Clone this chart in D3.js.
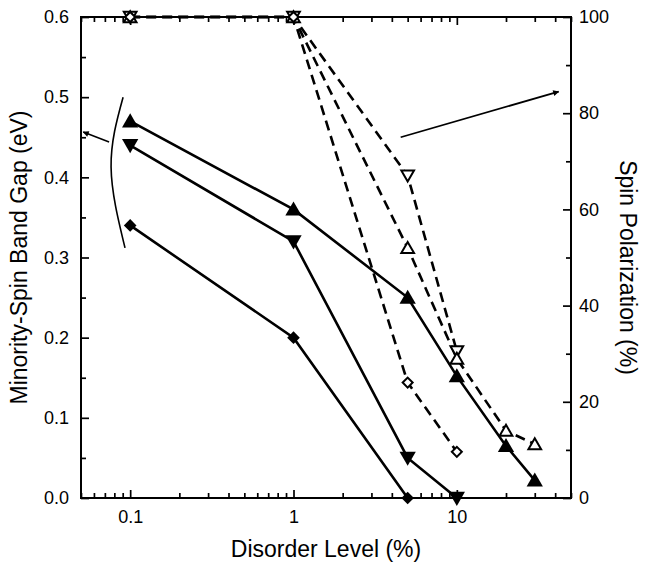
<!DOCTYPE html>
<html>
<head>
<meta charset="utf-8">
<script src="https://cdn.jsdelivr.net/npm/d3@7"></script>
<style>
  body { margin: 0; background: #fff; }
  svg text { font-family: Arial, "Liberation Sans", Helvetica, sans-serif; fill: #000; }
</style>
</head>
<body>
<div id="chart"></div>
<script>
// disorder levels (%) per series
var xUpTri = [0.1, 1, 5, 10, 20, 30];
var gapUpTri = [0.47, 0.36, 0.25, 0.152, 0.065, 0.022];
var xDownTri = [0.1, 1, 5, 10];
var gapDownTri = [0.44, 0.32, 0.05, 0.0];
var xDiamond = [0.1, 1, 5];
var gapDiamond = [0.34, 0.20, 0.0];

// spin polarization (%)
var xPolDown = [0.1, 1, 5, 10];
var polDown = [100, 100, 67, 30.5];
var xPolUp = [0.1, 1, 5, 10, 20, 30];
var polUp = [100, 100, 52, 29, 14, 11.2];
var xPolDiamond = [0.1, 1, 5, 10];
var polDiamond = [100, 100, 24, 9.6];

var xMajor = [0.1, 1, 10];
var yLeftTicks = [0, 0.1, 0.2, 0.3, 0.4, 0.5, 0.6];
var yRightTicks = [0, 20, 40, 60, 80, 100];

// annotation guides (data units)
var bracketX = [0.0905, 0.0764, 0.093];
var bracketY = [0.50, 0.413, 0.312];
var leftArrowX = [0.0743, 0.0516];
var leftArrowY = [0.444, 0.4565];
var rightArrowX = [4.53, 42.0];
var rightArrowY = [75, 84.5];

var margin = {top: 17, right: 74, bottom: 67, left: 81};
var width = 645 - margin.left - margin.right,
    height = 565 - margin.top - margin.bottom;

var svg = d3.select("#chart").append("svg")
    .attr("width", 645)
    .attr("height", 565);

var defs = svg.append("defs");
defs.append("marker")
    .attr("id", "arrow")
    .attr("viewBox", "0 0 10 10")
    .attr("refX", 9).attr("refY", 5)
    .attr("markerWidth", 10).attr("markerHeight", 6)
    .attr("markerUnits", "userSpaceOnUse")
    .attr("orient", "auto")
    .append("path").attr("d", "M0,0L10,5L0,10z").attr("fill", "#000");

var g = svg.append("g")
    .attr("transform", "translate(" + margin.left + "," + margin.top + ")");

var x = d3.scaleLog().domain([0.05, 50]).range([0, width]);
var yL = d3.scaleLinear().domain([0, 0.6]).range([height, 0]);
var yR = d3.scaleLinear().domain([0, 100]).range([height, 0]);

// minor tick values for the log axis
var xMinor = [];
[0.01, 0.1, 1, 10].forEach(function(dec) {
    for (var k = 2; k <= 9; k++) {
        var v = dec * k;
        if (v >= 0.05 && v <= 50) xMinor.push(v);
    }
});
var yLMinor = [0.05, 0.15, 0.25, 0.35, 0.45, 0.55];
var yRMinor = [10, 30, 50, 70, 90];

function cleanAxis(sel) {
    sel.select(".domain").remove();
    sel.selectAll("line").attr("stroke", "#000").attr("stroke-width", 1.7);
    sel.selectAll("text").style("font-size", "18px").attr("fill", "#000");
}

// bottom
g.append("g").attr("transform", "translate(0," + height + ")")
    .call(d3.axisBottom(x).tickValues(xMajor).tickFormat(d3.format("")).tickSize(-8).tickPadding(12))
    .call(cleanAxis);
g.append("g").attr("transform", "translate(0," + height + ")")
    .call(d3.axisBottom(x).tickValues(xMinor).tickFormat("").tickSize(-5))
    .call(cleanAxis);
// top
g.append("g")
    .call(d3.axisTop(x).tickValues(xMajor).tickFormat("").tickSize(-8))
    .call(cleanAxis);
g.append("g")
    .call(d3.axisTop(x).tickValues(xMinor).tickFormat("").tickSize(-5))
    .call(cleanAxis);
// left
g.append("g")
    .call(d3.axisLeft(yL).tickValues(yLeftTicks).tickFormat(d3.format(".1f")).tickSize(-8).tickPadding(12))
    .call(cleanAxis);
g.append("g")
    .call(d3.axisLeft(yL).tickValues(yLMinor).tickFormat("").tickSize(-5))
    .call(cleanAxis);
// right
g.append("g").attr("transform", "translate(" + width + ",0)")
    .call(d3.axisRight(yR).tickValues(yRightTicks).tickSize(-8).tickPadding(8))
    .call(cleanAxis);
g.append("g").attr("transform", "translate(" + width + ",0)")
    .call(d3.axisRight(yR).tickValues(yRMinor).tickFormat("").tickSize(-5))
    .call(cleanAxis);

// frame
g.append("rect")
    .attr("width", width).attr("height", height)
    .attr("fill", "none").attr("stroke", "#000").attr("stroke-width", 2);

// axis titles
svg.append("text")
    .attr("x", margin.left + width / 2).attr("y", 557)
    .attr("text-anchor", "middle")
    .style("font-size", "23px")
    .text("Disorder Level (%)");
svg.append("text")
    .attr("transform", "translate(27," + (margin.top + height / 2) + ") rotate(-90)")
    .attr("text-anchor", "middle")
    .style("font-size", "23px")
    .text("Minority-Spin Band Gap (eV)");
svg.append("text")
    .attr("transform", "translate(620," + (margin.top + height / 2 + 10) + ") rotate(90)")
    .attr("text-anchor", "middle")
    .style("font-size", "23px")
    .text("Spin Polarization (%)");

function pairs(xs, ys) {
    return xs.map(function(d, i) { return [d, ys[i]]; });
}

var lineL = d3.line().x(function(d) { return x(d[0]); }).y(function(d) { return yL(d[1]); });
var lineR = d3.line().x(function(d) { return x(d[0]); }).y(function(d) { return yR(d[1]); });

var polSeries = [
    {data: pairs(xPolDown, polDown), sym: "down"},
    {data: pairs(xPolUp, polUp), sym: "up"},
    {data: pairs(xPolDiamond, polDiamond), sym: "diamond"}
];
var gapSeries = [
    {data: pairs(xUpTri, gapUpTri), sym: "up"},
    {data: pairs(xDownTri, gapDownTri), sym: "down"},
    {data: pairs(xDiamond, gapDiamond), sym: "diamond"}
];

// dashed polarization lines
g.selectAll(".pol-line")
    .data(polSeries).enter().append("path")
    .attr("class", "pol-line")
    .attr("d", function(d) { return lineR(d.data); })
    .attr("fill", "none").attr("stroke", "#000")
    .attr("stroke-width", 2.6).attr("stroke-dasharray", "10,6");

// solid band gap lines
g.selectAll(".gap-line")
    .data(gapSeries).enter().append("path")
    .attr("class", "gap-line")
    .attr("d", function(d) { return lineL(d.data); })
    .attr("fill", "none").attr("stroke", "#000")
    .attr("stroke-width", 2.6);

function symPath(kind, filled) {
    if (kind === "diamond") return d3.symbol().type(d3.symbolSquare).size(filled ? 80 : 50)();
    return d3.symbol().type(d3.symbolTriangle).size(filled ? 115 : 70)();
}
function symTransform(kind, px, py) {
    var r = kind === "diamond" ? 45 : (kind === "down" ? 180 : 0);
    var dy = kind === "up" ? 1.5 : (kind === "down" ? -1.5 : 0);
    return "translate(" + px + "," + (py + dy) + ") rotate(" + r + ")";
}

gapSeries.forEach(function(s) {
    g.selectAll(null).data(s.data).enter().append("path")
        .attr("d", symPath(s.sym, true))
        .attr("transform", function(d) { return symTransform(s.sym, x(d[0]), yL(d[1])); })
        .attr("fill", "#000");
});
polSeries.forEach(function(s) {
    g.selectAll(null).data(s.data).enter().append("path")
        .attr("d", symPath(s.sym, false))
        .attr("transform", function(d) { return symTransform(s.sym, x(d[0]), yR(d[1])); })
        .attr("fill", "#fff").attr("stroke", "#000").attr("stroke-width", 2);
});

// bracket and arrows
g.append("path")
    .attr("d", d3.line().curve(d3.curveNatural)
        .x(function(d) { return x(d[0]); }).y(function(d) { return yL(d[1]); })(pairs(bracketX, bracketY)))
    .attr("fill", "none").attr("stroke", "#000").attr("stroke-width", 1.6);
g.append("path")
    .attr("d", lineL(pairs(leftArrowX, leftArrowY)))
    .attr("stroke", "#000").attr("stroke-width", 1.6)
    .attr("marker-end", "url(#arrow)");
g.append("path")
    .attr("d", lineR(pairs(rightArrowX, rightArrowY)))
    .attr("stroke", "#000").attr("stroke-width", 1.8)
    .attr("marker-end", "url(#arrow)");
</script>
</body>
</html>
